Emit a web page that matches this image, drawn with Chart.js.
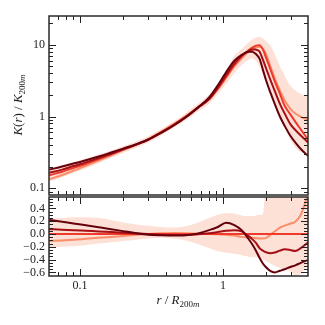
<!DOCTYPE html>
<html>
<head>
<meta charset="utf-8">
<script src="https://cdn.jsdelivr.net/npm/chart.js@4/dist/chart.umd.min.js"></script>
<style>
  html, body { margin: 0; padding: 0; background: #fff; }
  #wrap { position: relative; width: 325px; height: 325px; }
  canvas { position: absolute; left: 0; }
  #top { top: 0; }
  #bottom { top: 196px; }
</style>
</head>
<body>
<div id="wrap">
  <canvas id="top" width="325" height="196"></canvas>
  <canvas id="bottom" width="325" height="129"></canvas>
</div>
<script>
// r / R200m sample points shared by every curve
const radius = [0.061, 0.075, 0.09, 0.11, 0.135, 0.165, 0.2, 0.25, 0.3, 0.37, 0.45, 0.55, 0.67, 0.8, 0.92, 1.05,
                1.2, 1.35, 1.5, 1.6, 1.7, 1.8, 1.9, 2.0, 2.15, 2.3, 2.5, 2.7, 2.95, 3.2, 3.5, 3.95];

// top panel: K(r) / K200m
const kLight   = [0.134, 0.153, 0.176, 0.206, 0.244, 0.288, 0.34, 0.41, 0.485, 0.617, 0.78, 1.015, 1.344, 1.73, 2.4, 3.44,
                  5.0, 6.46, 7.9, 8.6, 9.2, 9.4, 8.8, 7.4, 4.95, 3.4, 2.31, 1.67, 1.29, 1.1, 0.99, 0.9];
const kRed     = [0.152, 0.17, 0.192, 0.22, 0.255, 0.297, 0.345, 0.41, 0.48, 0.605, 0.765, 1.0, 1.344, 1.75, 2.45, 3.55,
                  5.2, 6.8, 8.3, 9.1, 9.7, 9.85, 8.6, 6.6, 4.5, 3.1, 2.08, 1.41, 1.08, 0.85, 0.66, 0.47];
const kDarkRed = [0.164, 0.182, 0.204, 0.23, 0.263, 0.303, 0.348, 0.41, 0.475, 0.593, 0.746, 0.975, 1.33, 1.75, 2.52, 3.75,
                  5.5, 7.1, 8.1, 8.6, 8.55, 8.05, 6.2, 4.7, 3.2, 2.27, 1.5, 1.1, 0.79, 0.65, 0.545, 0.43];
const kDarkest = [0.182, 0.201, 0.221, 0.246, 0.277, 0.315, 0.357, 0.414, 0.478, 0.596, 0.75, 0.98, 1.34, 1.84, 2.72, 4.12,
                  6.0, 7.2, 7.95, 8.0, 7.4, 6.4, 4.5, 3.2, 2.13, 1.5, 1.0, 0.74, 0.543, 0.437, 0.353, 0.28];
const kBandLow  = [0.125, 0.143, 0.163, 0.19, 0.225, 0.265, 0.31, 0.37, 0.435, 0.545, 0.69, 0.89, 1.18, 1.52, 2.05, 2.85,
                   4.0, 5.2, 6.1, 6.4, 5.9, 5.0, 3.9, 3.0, 2.1, 1.45, 0.95, 0.7, 0.48, 0.37, 0.32, 0.29];
const kBandHigh = [0.192, 0.21, 0.232, 0.26, 0.295, 0.335, 0.385, 0.455, 0.53, 0.67, 0.85, 1.12, 1.52, 2.02, 2.85, 4.3,
                   7.0, 8.7, 10.6, 11.8, 12.6, 12.8, 12.2, 11.2, 9.6, 7.4, 5.0, 3.7, 2.7, 2.3, 2.05, 1.9];

// bottom panel: residuals against the red curve
const resLight   = [-0.11, -0.1, -0.09, -0.075, -0.06, -0.045, -0.03, -0.012, 0.0, 0.01, 0.015, 0.012, 0.005, 0.0, -0.005, -0.01,
                    -0.025, -0.045, -0.055, -0.06, -0.065, -0.07, -0.07, -0.06, -0.01, 0.04, 0.1, 0.13, 0.16, 0.19, 0.3, 0.64];
const resRed     = [0, 0, 0, 0, 0, 0, 0, 0, 0, 0, 0, 0, 0, 0, 0, 0,
                    0, 0, 0, 0, 0, 0, 0, 0, 0, 0, 0, 0, 0, 0, 0, 0];
const resDarkRed = [0.075, 0.068, 0.06, 0.05, 0.04, 0.03, 0.02, 0.008, 0.0, -0.01, -0.015, -0.015, -0.005, 0.01, 0.03, 0.05,
                    0.06, 0.04, -0.03, -0.08, -0.14, -0.22, -0.26, -0.285, -0.3, -0.29, -0.26, -0.24, -0.25, -0.265, -0.22, -0.13];
const resDarkest = [0.22, 0.19, 0.165, 0.135, 0.105, 0.075, 0.045, 0.012, -0.01, -0.02, -0.025, -0.02, 0.01, 0.06, 0.11, 0.175,
                    0.14, 0.06, -0.07, -0.16, -0.26, -0.37, -0.46, -0.52, -0.58, -0.6, -0.575, -0.55, -0.515, -0.49, -0.45, -0.405];
const resBandLow  = [-0.22, -0.2, -0.19, -0.17, -0.15, -0.13, -0.11, -0.09, -0.07, -0.06, -0.07, -0.1, -0.16, -0.22, -0.27, -0.29,
                     -0.31, -0.33, -0.35, -0.36, -0.36, -0.38, -0.4, -0.42, -0.46, -0.5, -0.53, -0.55, -0.58, -0.64, -0.62, -0.46];
const resBandHigh = [0.24, 0.25, 0.26, 0.26, 0.25, 0.22, 0.18, 0.15, 0.13, 0.11, 0.1, 0.12, 0.18, 0.25, 0.3, 0.33,
                     0.32, 0.29, 0.28, 0.28, 0.29, 0.3, 0.31, 0.8, 0.8, 0.8, 0.8, 0.8, 0.8, 0.8, 0.8, 0.8];

// ticks
const xTicks = [0.1, 1];
const xTickLabels = ['0.1', '1'];
const xMinor = [0.07, 0.08, 0.09, 0.2, 0.3, 0.4, 0.5, 0.6, 0.7, 0.8, 0.9, 2, 3];
const kTicks = [0.1, 1, 10];
const kTickLabels = ['0.1', '1', '10'];
const kMinor = [0.09, 0.2, 0.3, 0.4, 0.5, 0.6, 0.7, 0.8, 0.9, 2, 3, 4, 5, 6, 7, 8, 9, 20];
const resTicks = [-0.6, -0.4, -0.2, 0.0, 0.2, 0.4];
const resTickLabels = ['\u22120.6', '\u22120.4', '\u22120.2', '0.0', '0.2', '0.4'];
const resMinor = [-0.65, -0.55, -0.5, -0.45, -0.35, -0.3, -0.25, -0.15, -0.1, -0.05, 0.05, 0.1, 0.15, 0.25, 0.3, 0.35, 0.45, 0.5, 0.55];

const cLight = '#fc8d6a', cRed = '#ef3b2c', cDarkRed = '#a50f15', cDarkest = '#67000d', cBand = '#fde0d6';
const ink = '#222222';
const serif = '"Liberation Serif", "DejaVu Serif", serif';

Chart.defaults.font.family = serif;
Chart.defaults.color = ink;

function pts(arr) {
    return radius.map((r, i) => ({x: r, y: arr[i]}));
}

function curve(arr, color, order) {
    return {data: pts(arr), borderColor: color, borderWidth: 2, pointRadius: 0, fill: false,
            cubicInterpolationMode: 'monotone', order: order};
}

function band(low, high) {
    return [
        {data: pts(low), borderWidth: 0, pointRadius: 0, fill: false, cubicInterpolationMode: 'monotone', order: 11},
        {data: pts(high), borderWidth: 0, pointRadius: 0, fill: '-1', backgroundColor: cBand,
         cubicInterpolationMode: 'monotone', order: 10}
    ];
}

// frame and inward ticks on all four sides
const framePlugin = {
    id: 'frame',
    afterDraw(chart, args, opts) {
        const {ctx, chartArea: a} = chart;
        const x = chart.scales.x, y = chart.scales.y;
        ctx.save();
        ctx.strokeStyle = ink;
        ctx.lineWidth = 1;
        ctx.beginPath();
        const xt = (vals, len) => vals.forEach(v => {
            const p = Math.round(x.getPixelForValue(v)) + 0.5;
            if (p < a.left || p > a.right) return;
            ctx.moveTo(p, a.top); ctx.lineTo(p, a.top + len);
            ctx.moveTo(p, a.bottom); ctx.lineTo(p, a.bottom - len);
        });
        const yt = (vals, len) => vals.forEach(v => {
            const p = Math.round(y.getPixelForValue(v)) + 0.5;
            if (p < a.top || p > a.bottom) return;
            ctx.moveTo(a.left, p); ctx.lineTo(a.left + len, p);
            ctx.moveTo(a.right, p); ctx.lineTo(a.right - len, p);
        });
        xt(opts.xMajor, 7); xt(opts.xMinor, 4);
        yt(opts.yMajor, 7); yt(opts.yMinor, 4);
        ctx.stroke();
        ctx.lineWidth = 1.5;
        ctx.strokeStyle = '#2a2a2a';
        ctx.strokeRect(a.left, a.top, a.right - a.left, a.bottom - a.top);
        ctx.restore();
    }
};

// math-style label: parts of [text, style], style i = italic, r = roman, s* = subscript
function drawMath(ctx, parts, cx, baseline) {
    const fonts = parts.map(([t, s]) => (s.endsWith('i') ? 'italic ' : '') + (s[0] === 's' ? '9px ' : '13px ') + serif);
    let w = 0;
    parts.forEach(([t], i) => { ctx.font = fonts[i]; w += ctx.measureText(t).width; });
    let xx = cx - w / 2;
    parts.forEach(([t, s], i) => {
        ctx.font = fonts[i];
        ctx.fillText(t, xx, baseline + (s[0] === 's' ? 3 : 0));
        xx += ctx.measureText(t).width;
    });
}

const titlePlugin = {
    id: 'mathTitle',
    afterDraw(chart, args, opts) {
        const ctx = chart.ctx;
        ctx.save();
        ctx.fillStyle = ink;
        ctx.textAlign = 'left';
        ctx.textBaseline = 'alphabetic';
        ctx.translate(opts.x, opts.y);
        if (opts.rotate) ctx.rotate(-Math.PI / 2);
        drawMath(ctx, opts.parts, 0, 0);
        ctx.restore();
    }
};

function fixedTicks(vals) {
    return scale => { scale.ticks = vals.map(v => ({value: v})); };
}

// fixed axis size, and no extra room reserved for end labels
function fixWidth(w) {
    return s => { s.width = w; s.paddingTop = 0; s.paddingBottom = 0; };
}
function fixHeight(h) {
    return s => { s.height = h; s.paddingLeft = 0; s.paddingRight = 0; };
}

new Chart(document.getElementById('top'), {
    type: 'line',
    data: {datasets: [
        ...band(kBandLow, kBandHigh),
        curve(kLight, cLight, 4),
        curve(kRed, cRed, 3),
        curve(kDarkRed, cDarkRed, 2),
        curve(kDarkest, cDarkest, 1)
    ]},
    options: {
        responsive: false, animation: false, devicePixelRatio: 1,
        layout: {autoPadding: false, padding: {top: 16, right: 17, bottom: 1, left: 0}},
        plugins: {
            legend: {display: false}, tooltip: {enabled: false},
            frame: {xMajor: xTicks, xMinor: xMinor, yMajor: kTicks, yMinor: kMinor},
            mathTitle: {x: 22, y: 105, rotate: true,
                parts: [['K', 'i'], ['(', 'r'], ['r', 'i'], [')', 'r'], [' / ', 'r'], ['K', 'i'], ['200', 'sr'], ['m', 'si']]}
        },
        scales: {
            x: {type: 'logarithmic', min: 0.0607, max: 3.93, display: false},
            y: {type: 'logarithmic', min: 0.0807, max: 25.1,
                afterFit: fixWidth(49),
                afterBuildTicks: fixedTicks(kTicks),
                grid: {display: false, drawTicks: false}, border: {display: false},
                ticks: {autoSkip: false, padding: 4, font: {size: 12},
                        callback: (v, i) => kTickLabels[i]}}
        }
    },
    plugins: [framePlugin, titlePlugin]
});

new Chart(document.getElementById('bottom'), {
    type: 'line',
    data: {datasets: [
        ...band(resBandLow, resBandHigh),
        curve(resLight, cLight, 4),
        curve(resRed, cRed, 3),
        curve(resDarkRed, cDarkRed, 2),
        curve(resDarkest, cDarkest, 1)
    ]},
    options: {
        responsive: false, animation: false, devicePixelRatio: 1,
        layout: {autoPadding: false, padding: {top: 1, right: 17, bottom: 0, left: 0}},
        plugins: {
            legend: {display: false}, tooltip: {enabled: false},
            frame: {xMajor: xTicks, xMinor: xMinor, yMajor: resTicks, yMinor: resMinor},
            mathTitle: {x: 178, y: 108, rotate: false,
                parts: [['r', 'i'], [' / ', 'r'], ['R', 'i'], ['200', 'sr'], ['m', 'si']]}
        },
        scales: {
            x: {type: 'logarithmic', min: 0.0607, max: 3.93,
                afterFit: fixHeight(49),
                afterBuildTicks: fixedTicks(xTicks),
                grid: {display: false, drawTicks: false}, border: {display: false},
                ticks: {autoSkip: false, maxRotation: 0, padding: 3, font: {size: 12},
                        callback: (v, i) => xTickLabels[i]}},
            y: {type: 'linear', min: -0.656, max: 0.578,
                afterFit: fixWidth(49),
                afterBuildTicks: fixedTicks(resTicks),
                grid: {display: false, drawTicks: false}, border: {display: false},
                ticks: {autoSkip: false, padding: 4, font: {size: 12},
                        callback: (v, i) => resTickLabels[i]}}
        }
    },
    plugins: [framePlugin, titlePlugin]
});
</script>
</body>
</html>
